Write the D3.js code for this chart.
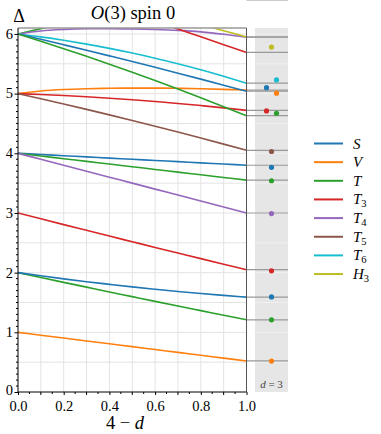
<!DOCTYPE html>
<html>
<head>
<meta charset="utf-8">
<script src="https://cdn.jsdelivr.net/npm/d3@7"></script>
<style>
  body { margin: 0; background: #fff; }
  text { font-family: "Liberation Serif", "DejaVu Serif", serif; fill: #000; }
</style>
</head>
<body>
<script>
// sample points along 4-d
var xs = [0, 0.1, 0.2, 0.3, 0.4, 0.5, 0.6, 0.7, 0.8, 0.9, 1.0]

var names = ["S", "V", "T", "T3", "T4", "T5", "T6", "H3"]
var colors = ["#1f77b4", "#ff7f0e", "#2ca02c", "#d62728", "#9467bd", "#8c564b", "#17becf", "#bcbd22"]

// curves: rep + values at xs (null = off the chart)
var curveRep = ["V", "T", "S", "T3", "S", "T", "T4", "V", "T3", "T5", "T", "T4", "T6", "S", "T", "T3", "H3"]
var curveVals = [
    [1.00, 0.952, 0.904, 0.856, 0.808, 0.760, 0.712, 0.664, 0.616, 0.568, 0.52],
    [2.00, 1.918, 1.837, 1.757, 1.677, 1.598, 1.519, 1.441, 1.364, 1.287, 1.21],
    [2.00, 1.947, 1.896, 1.848, 1.804, 1.761, 1.722, 1.685, 1.650, 1.619, 1.59],
    [3.00, 2.902, 2.805, 2.709, 2.613, 2.518, 2.423, 2.329, 2.235, 2.142, 2.05],
    [4.00, 3.980, 3.960, 3.940, 3.920, 3.900, 3.880, 3.860, 3.840, 3.820, 3.80],
    [4.00, 3.955, 3.910, 3.865, 3.820, 3.775, 3.730, 3.685, 3.640, 3.595, 3.55],
    [4.00, 3.900, 3.800, 3.700, 3.600, 3.500, 3.400, 3.300, 3.200, 3.100, 3.00],
    [5.00, 5.045, 5.070, 5.083, 5.090, 5.093, 5.093, 5.090, 5.083, 5.072, 5.06],
    [5.00, 4.986, 4.968, 4.948, 4.924, 4.898, 4.868, 4.836, 4.800, 4.762, 4.72],
    [5.00, 4.914, 4.826, 4.736, 4.644, 4.550, 4.454, 4.356, 4.256, 4.154, 4.05],
    [6.00, 6.090, 6.180, null, null, null, null, null, null, null, null],
    [6.00, 6.050, 6.075, 6.088, 6.090, 6.085, 6.075, 6.060, 6.035, 5.995, 5.945],
    [6.00, 5.951, 5.894, 5.830, 5.759, 5.680, 5.594, 5.500, 5.400, 5.291, 5.175],
    [6.00, 5.910, 5.819, 5.727, 5.633, 5.538, 5.441, 5.343, 5.243, 5.142, 5.04],
    [6.00, 5.878, 5.753, 5.625, 5.493, 5.358, 5.219, 5.077, 4.931, 4.782, 4.63],
    [null, null, null, null, null, null, 6.214, 6.083, 5.952, 5.821, 5.69],
    [null, null, null, null, null, null, null, null, 6.160, 6.055, 5.95]
]

// d=3 values (panel dots), slot -1 / 0 / +1 = left / middle / right
var dotRep = ["H3", "T6", "S", "V", "T3", "T", "T5", "S", "T", "T4", "T3", "S", "T", "V"]
var dotVals = [5.78, 5.23, 5.10, 5.007, 4.71, 4.67, 4.03, 3.765, 3.54, 2.99, 2.03, 1.594, 1.209, 0.518]
var dotSlot = [0, 1, -1, 1, -1, 1, 0, 0, 0, 0, 0, 0, 0, 0]

var xTicks = [0, 0.2, 0.4, 0.6, 0.8, 1.0]
var yTicks = [0, 1, 2, 3, 4, 5, 6]

var W = 381, H = 434
var pL = 18, pR = 246.5, pT = 28, pB = 392
var panelL = 255, panelR = 288

var color = d3.scaleOrdinal().domain(names).range(colors)
var x = d3.scaleLinear().domain([0, 1]).range([pL, pR])
var y = d3.scaleLinear().domain([0, 6.1]).range([pB, pT])
var px = d3.scaleLinear().domain([-1, 1]).range([panelL + 11.5, panelL + 21.5])

var svg = d3.select("body").append("svg")
    .attr("width", W)
    .attr("height", H)

svg.append("defs").append("clipPath").attr("id", "clip")
    .append("rect")
    .attr("x", pL).attr("y", pT)
    .attr("width", pR - pL).attr("height", pB - pT)

// grid
var grid = svg.append("g")
grid.selectAll(".gx").data(d3.range(1, 10).map(function(i) { return i / 10 }))
    .enter().append("line")
    .attr("x1", function(d) { return x(d) }).attr("x2", function(d) { return x(d) })
    .attr("y1", pT).attr("y2", pB)
    .attr("stroke", "#e3e3e3").attr("stroke-width", 1)
grid.selectAll(".gy").data(d3.range(1, 13).map(function(i) { return i / 2 }))
    .enter().append("line")
    .attr("x1", pL).attr("x2", pR)
    .attr("y1", function(d) { return y(d) }).attr("y2", function(d) { return y(d) })
    .attr("stroke", "#e3e3e3").attr("stroke-width", 1)

// side panel
svg.append("rect")
    .attr("x", panelL).attr("y", pT)
    .attr("width", panelR - panelL).attr("height", pB - pT)
    .attr("fill", "#e6e6e6")
svg.append("g").selectAll("line").data(d3.range(1, 13).map(function(i) { return i / 2 }))
    .enter().append("line")
    .attr("x1", panelL).attr("x2", panelR)
    .attr("y1", function(d) { return y(d) }).attr("y2", function(d) { return y(d) })
    .attr("stroke", "#f0f0f0").attr("stroke-width", 1)

// gray end lines from x=1 across the panel
var ends = curveVals.map(function(v) { return v[v.length - 1] })
svg.append("g").selectAll("line").data(ends)
    .enter().append("line")
    .attr("x1", pR).attr("x2", panelR)
    .attr("y1", function(d) { return y(d) }).attr("y2", function(d) { return y(d) })
    .attr("stroke", "#999").attr("stroke-width", 1.2)

// curves
var line = d3.line()
    .defined(function(d) { return d[1] != null })
    .x(function(d) { return x(d[0]) })
    .y(function(d) { return y(d[1]) })
    .curve(d3.curveMonotoneX)

svg.append("g").attr("clip-path", "url(#clip)")
    .selectAll("path").data(curveVals)
    .enter().append("path")
    .attr("d", function(v) { return line(xs.map(function(xx, i) { return [xx, v[i]] })) })
    .attr("fill", "none")
    .attr("stroke", function(v, i) { return color(curveRep[i]) })
    .attr("stroke-width", 1.6)

// dots
svg.append("g").selectAll("circle").data(dotVals)
    .enter().append("circle")
    .attr("cx", function(d, i) { return px(dotSlot[i]) })
    .attr("cy", function(d) { return y(d) })
    .attr("r", 2.6)
    .attr("fill", function(d, i) { return color(dotRep[i]) })

svg.append("text")
    .attr("x", (panelL + panelR) / 2).attr("y", 388)
    .attr("text-anchor", "middle")
    .style("font-size", "11px")
    .style("fill", "#444")
    .html('<tspan font-style="italic">d</tspan> = 3')

// spines
svg.append("line").attr("x1", pL).attr("x2", pR).attr("y1", pT).attr("y2", pT)
    .attr("stroke", "#999").attr("stroke-width", 1.6)
svg.append("line").attr("x1", pR).attr("x2", pR).attr("y1", pT).attr("y2", pB)
    .attr("stroke", "#555").attr("stroke-width", 1)

// axes
var xAxis = svg.append("g").attr("transform", "translate(0," + pB + ")")
    .call(d3.axisBottom(x).tickValues(xTicks).tickFormat(d3.format(".1f")).tickSize(3))
xAxis.append("g").selectAll("line").data(d3.range(1, 20, 2).map(function(i) { return i / 20 }))
    .enter().append("line")
    .attr("x1", function(d) { return x(d) }).attr("x2", function(d) { return x(d) })
    .attr("y1", 0).attr("y2", 2).attr("stroke", "#000")
xAxis.append("g").selectAll("line").data([0.1, 0.3, 0.5, 0.7, 0.9])
    .enter().append("line")
    .attr("x1", function(d) { return x(d) }).attr("x2", function(d) { return x(d) })
    .attr("y1", 0).attr("y2", 3).attr("stroke", "#000")

var yAxis = svg.append("g").attr("transform", "translate(" + pL + ",0)")
    .call(d3.axisLeft(y).tickValues(yTicks).tickFormat(d3.format("d")).tickSize(3.5))
yAxis.append("g").selectAll("line").data(d3.range(1, 61).filter(function(i) { return i % 10 }).map(function(i) { return i / 10 }))
    .enter().append("line")
    .attr("x1", -2).attr("x2", 0)
    .attr("y1", function(d) { return y(d) }).attr("y2", function(d) { return y(d) })
    .attr("stroke", "#000")

svg.selectAll(".domain").attr("stroke", "#000")
xAxis.select(".domain").attr("d", "M" + pL + ",0H" + pR)
yAxis.select(".domain").attr("d", "M0," + pB + "V" + pT)
xAxis.selectAll(".tick text").style("font-size", "14.5px").attr("y", 18.5).attr("dy", null)
yAxis.selectAll(".tick text").style("font-size", "14.5px").attr("x", -5)
    .attr("dy", function(d) { return d === 0 ? "0.18em" : "0.3em" })

// labels
svg.append("text").attr("x", 133).attr("y", 19).attr("text-anchor", "middle")
    .style("font-size", "18.5px")
    .html('<tspan font-style="italic">O</tspan>(3) spin 0')
svg.append("text").attr("x", 19).attr("y", 22).attr("text-anchor", "middle")
    .style("font-size", "18px").text("Δ")
svg.append("text").attr("x", 125).attr("y", 429).attr("text-anchor", "middle")
    .style("font-size", "18.5px")
    .html('4 − <tspan font-style="italic">d</tspan>')

// legend
var legend = svg.append("g")
var leg = legend.selectAll("g").data(names).enter().append("g")
    .attr("transform", function(d, i) { return "translate(314," + (143.5 + i * 18.65) + ")" })
leg.append("line").attr("x1", 0).attr("x2", 29).attr("y1", 0).attr("y2", 0)
    .attr("stroke", function(d) { return color(d) }).attr("stroke-width", 2)
leg.append("text").attr("x", 39).attr("y", 5)
    .style("font-size", "15px").style("font-style", "italic")
    .each(function(d) {
        var t = d3.select(this)
        t.append("tspan").text(d[0])
        if (d.length > 1) t.append("tspan").attr("dy", 3).style("font-size", "10.5px").style("font-style", "normal").text(d.slice(1))
    })
</script>
</body>
</html>
